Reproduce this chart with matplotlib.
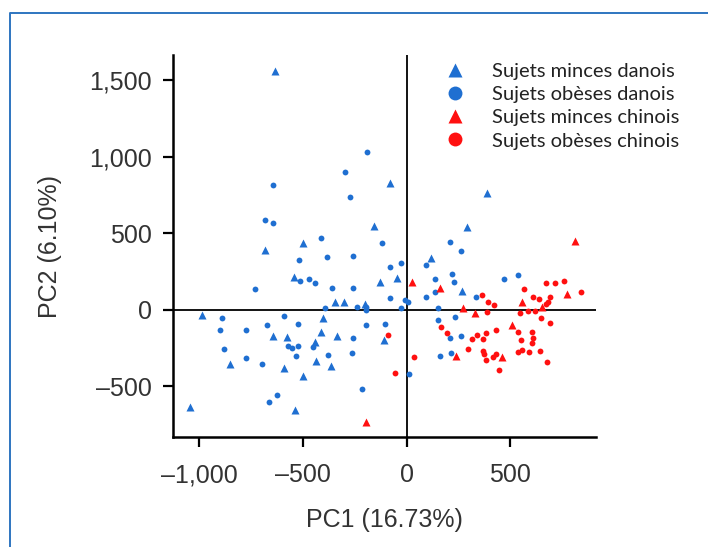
import matplotlib
matplotlib.use("Agg")
import matplotlib.pyplot as plt
from matplotlib.lines import Line2D

# PCA scores
lean_dk_x = [-635, -80, -157, -500, 389, 292, -684, -543, -988, -645, -577, -853, -592, -500,
             -1046, -539, 118, -128, -46, -345, -302, -200, -403, -109, -413, -336, -442, -437,
             -365, 268]
lean_dk_y = [1559, 827, 546, 435, 761, 539, 389, 212, -36, -173, -180, -356, -382, -435,
             -637, -657, 337, 180, 206, 49, 49, 36, -56, -199, -147, -173, -212, -337,
             -369, 121]

obese_dk_x = [-645, -684, -645, -191, -297, -273, -413, -118, 210, 263, -519, -515, -471, -442,
              -732, -891, -901, -775, -674, -592, -524, -572, -553, -524, -534, -882, -775, -698,
              -626, -664, -452, -384, -258, -27, -80, 94, -360, -258, 138, 220, 229, 138, 94,
              -80, -7, 7, -394, -239, -196, -196, -27, 152, -196, -104, 152, 234, -258, 210,
              263, -379, -263, 162, 215, 12, -215, 471, 539, 336]
obese_dk_y = [814, 585, 565, 1029, 899, 735, 467, 435, 441, 382, 324, 186, 199, 173,
              134, -56, -134, -134, -101, -42, -95, -239, -252, -239, -304, -258, -317, -356,
              -559, -605, -245, 343, 350, 304, 278, 291, 141, 141, 199, 232, 180, 114, 82,
              75, 62, 49, 10, 16, 16, -3, 10, 10, -101, -95, -69, -49, -186, -186,
              -173, -297, -284, -304, -284, -422, -520, 199, 225, 82]

lean_cn_x = [814, 27, 162, 239, -196, 273, 331, 510, 461, 775, 655, 558]
lean_cn_y = [448, 180, 141, -304, -735, 10, -23, -101, -310, 101, 16, 49]

obese_cn_x = [-89, 167, 196, 36, -56, 365, 394, 423, 389, 432, 384, 341, 316, 370, 297, 370,
              374, 384, 418, 432, 447, 568, 611, 640, 674, 717, 761, 843, 693, 684, 674, 621,
              587, 548, 650, 693, 539, 606, 611, 553, 606, 539, 558, 592, 645, 679]
obese_cn_y = [-167, -114, -154, -310, -415, 95, 49, 29, -16, -134, -154, -167, -193, -193, -258, -271,
              -291, -330, -310, -291, -395, 134, 82, 69, 173, 173, 186, 114, 82, 49, 36, -10,
              -10, -23, -56, -88, -147, -147, -186, -199, -219, -278, -265, -278, -271, -343]

labels = ["Sujets minces danois", "Sujets obèses danois",
          "Sujets minces chinois", "Sujets obèses chinois"]
x_ticks = [-1000, -500, 0, 500]
y_ticks = [-500, 0, 500, 1000, 1500]

blue = "#1f6fd1"
red = "#ff1010"

fig = plt.figure(figsize=(7.08, 5.47), dpi=100)
ax = fig.add_axes([173 / 708, 110 / 547, 423 / 708, 382 / 547])

ax.axhline(0, color="black", lw=1.3, zorder=1)
ax.axvline(0, color="black", lw=1.3, zorder=1)

h1, = ax.plot(lean_dk_x, lean_dk_y, "^", ms=5.5, color=blue, mec="none", zorder=3)
h2, = ax.plot(obese_dk_x, obese_dk_y, "o", ms=4.2, color=blue, mec="none", zorder=3)
h3, = ax.plot(lean_cn_x, lean_cn_y, "^", ms=5.5, color=red, mec="none", zorder=3)
h4, = ax.plot(obese_cn_x, obese_cn_y, "o", ms=4.2, color=red, mec="none", zorder=3)

ax.set_xlim(-1127, 914)
ax.set_ylim(-831, 1663)
ax.set_xticks(x_ticks)
ax.set_xticklabels(["\u20131,000", "\u2013500", "0", "500"])
ax.set_yticks(y_ticks)
ax.set_yticklabels(["\u2013500", "0", "500", "1,000", "1,500"])

for s in ["top", "right"]:
    ax.spines[s].set_visible(False)
for s in ["left", "bottom"]:
    ax.spines[s].set_linewidth(1.8)

tick_font = "Liberation Sans"
ax.tick_params(axis="both", direction="out", length=7, width=1.6, labelsize=18,
               colors="black", labelcolor="#333333")
ax.tick_params(axis="x", pad=12)
ax.tick_params(axis="y", pad=8)
for lab in ax.get_xticklabels() + ax.get_yticklabels():
    lab.set_family(tick_font)

ax.set_xlabel("PC1 (16.73%)", fontsize=18, family=tick_font, color="#333333", labelpad=15)
ax.set_ylabel("PC2 (6.10%)", fontsize=18, family=tick_font, color="#333333", labelpad=20)

leg = ax.legend([h1, h2, h3, h4], labels, loc="upper left",
                bbox_to_anchor=(445 / 708, 1 - 63 / 547), bbox_transform=fig.transFigure,
                frameon=False, borderpad=0, borderaxespad=0,
                handlelength=1.0, handletextpad=1.34, labelspacing=0.3,
                prop={"family": "Lato", "size": 14.5})
for t in leg.get_texts():
    t.set_color("#222222")
for hd in leg.legend_handles:
    hd.set_markersize(10)

# blue frame around the figure
fig.add_artist(Line2D([10 / 708, 10 / 708, 1.0], [0.0, 1 - 13 / 547, 1 - 13 / 547],
                      transform=fig.transFigure, color="#2e75c0", lw=1.4))

fig.savefig("out.png", dpi=100)
